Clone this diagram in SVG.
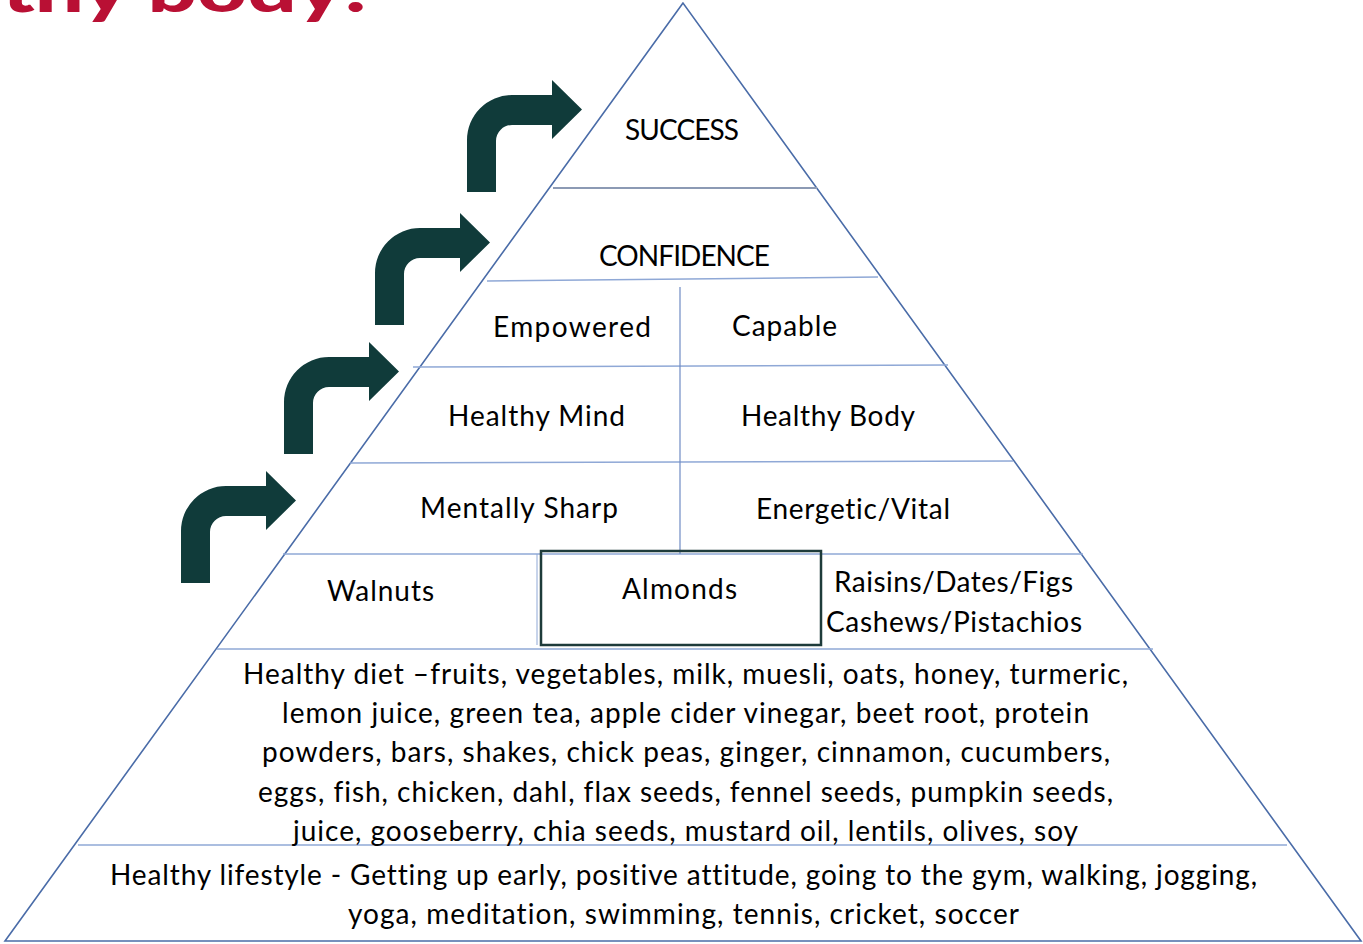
<svg xmlns="http://www.w3.org/2000/svg" width="1363" height="944" viewBox="0 0 1363 944">
<style>
.t{font-family:Lato,"Open Sans","Liberation Sans",sans-serif;font-size:28px;fill:#000;font-variant-ligatures:none;}
.m{text-anchor:middle;}
.edge{fill:none;stroke:#4A6CA8;stroke-width:1.6;}
.div{stroke:#8FA8D6;stroke-width:1.5;fill:none;}
.divg{stroke:#8C9AB4;stroke-width:2;fill:none;}
.arrow{fill:#103B3A;}
.title{font-family:Lato,"Liberation Sans",sans-serif;font-weight:900;font-size:62px;fill:#B91034;font-variant-ligatures:none;}
</style>
<defs>
<path id="bent" d="M0,97 L0,45 A45,45 0 0 1 45,0 L85,0 L85,-15 L115,14.5 L85,44 L85,30 L45,30 A16,16 0 0 0 29,46 L29,97 Z"/>
</defs>
<rect width="1363" height="944" fill="#fff"/>
<text class="title" x="2" y="12" textLength="366" lengthAdjust="spacingAndGlyphs">thy body!</text>
<g id="arrows" class="arrow">
<use href="#bent" x="181" y="486"/>
<use href="#bent" x="284" y="357"/>
<use href="#bent" x="375" y="228"/>
<use href="#bent" x="467" y="95"/>
</g>
<g id="connectors">
<polygon class="edge" points="683,3 5,941 1361,941"/>
<line class="divg" x1="553" y1="188" x2="817" y2="188"/>
<line class="div" x1="487" y1="281" x2="878" y2="277"/>
<line class="div" x1="413" y1="367" x2="948" y2="365"/>
<line class="div" x1="350" y1="463" x2="1013" y2="461"/>
<line class="div" x1="283" y1="554" x2="1083" y2="554"/>
<line class="div" x1="217" y1="649" x2="1153" y2="649"/>
<line class="div" x1="78" y1="845" x2="1287" y2="845"/>
<line class="div" x1="680" y1="287" x2="680" y2="554" style="stroke:#6F8BC4;stroke-width:1.2"/>
<line class="div" x1="537" y1="554" x2="537" y2="645" style="stroke:#8FA8D6;stroke-width:1"/>
</g>
<g id="success"><text class="t m" x="682" y="140" textLength="114">SUCCESS</text></g>
<g id="confidence"><text class="t m" x="684.5" y="266" textLength="171">CONFIDENCE</text></g>
<g id="empowered"><text class="t" x="493" y="337" textLength="158">Empowered</text></g>
<g id="capable"><text class="t" x="732" y="336" textLength="105">Capable</text></g>
<g id="healthy-mind"><text class="t" x="448" y="426" textLength="177">Healthy Mind</text></g>
<g id="healthy-body"><text class="t" x="741" y="426" textLength="174">Healthy Body</text></g>
<g id="mentally-sharp"><text class="t" x="420" y="518" textLength="198">Mentally Sharp</text></g>
<g id="energetic"><text class="t" x="756" y="519" textLength="194">Energetic/Vital</text></g>
<g id="walnuts"><text class="t" x="327" y="601" textLength="107">Walnuts</text></g>
<g id="almonds">
<rect x="541" y="551" width="280" height="94" fill="none" stroke="#1E3B3A" stroke-width="2.5"/>
<text class="t" x="622" y="599" textLength="115">Almonds</text>
</g>
<g id="raisins">
<text class="t" x="834" y="592" textLength="239">Raisins/Dates/Figs</text>
<text class="t" x="826" y="632" textLength="256">Cashews/Pistachios</text>
</g>
<g id="diet">
<text class="t" x="243" y="684" textLength="885">Healthy diet –fruits, vegetables, milk, muesli, oats, honey, turmeric,</text>
<text class="t" x="282" y="723" textLength="807">lemon juice, green tea, apple cider vinegar, beet root, protein</text>
<text class="t" x="262" y="762" textLength="848">powders, bars, shakes, chick peas, ginger, cinnamon, cucumbers,</text>
<text class="t" x="258" y="802" textLength="855">eggs, fish, chicken, dahl, flax seeds, fennel seeds, pumpkin seeds,</text>
<text class="t" x="293" y="841" textLength="785">juice, gooseberry, chia seeds, mustard oil, lentils, olives, soy</text>
</g>
<g id="lifestyle">
<text class="t" x="110" y="885" textLength="1147">Healthy lifestyle - Getting up early, positive attitude, going to the gym, walking, jogging,</text>
<text class="t" x="348" y="924" textLength="671">yoga, meditation, swimming, tennis, cricket, soccer</text>
</g>
</svg>
